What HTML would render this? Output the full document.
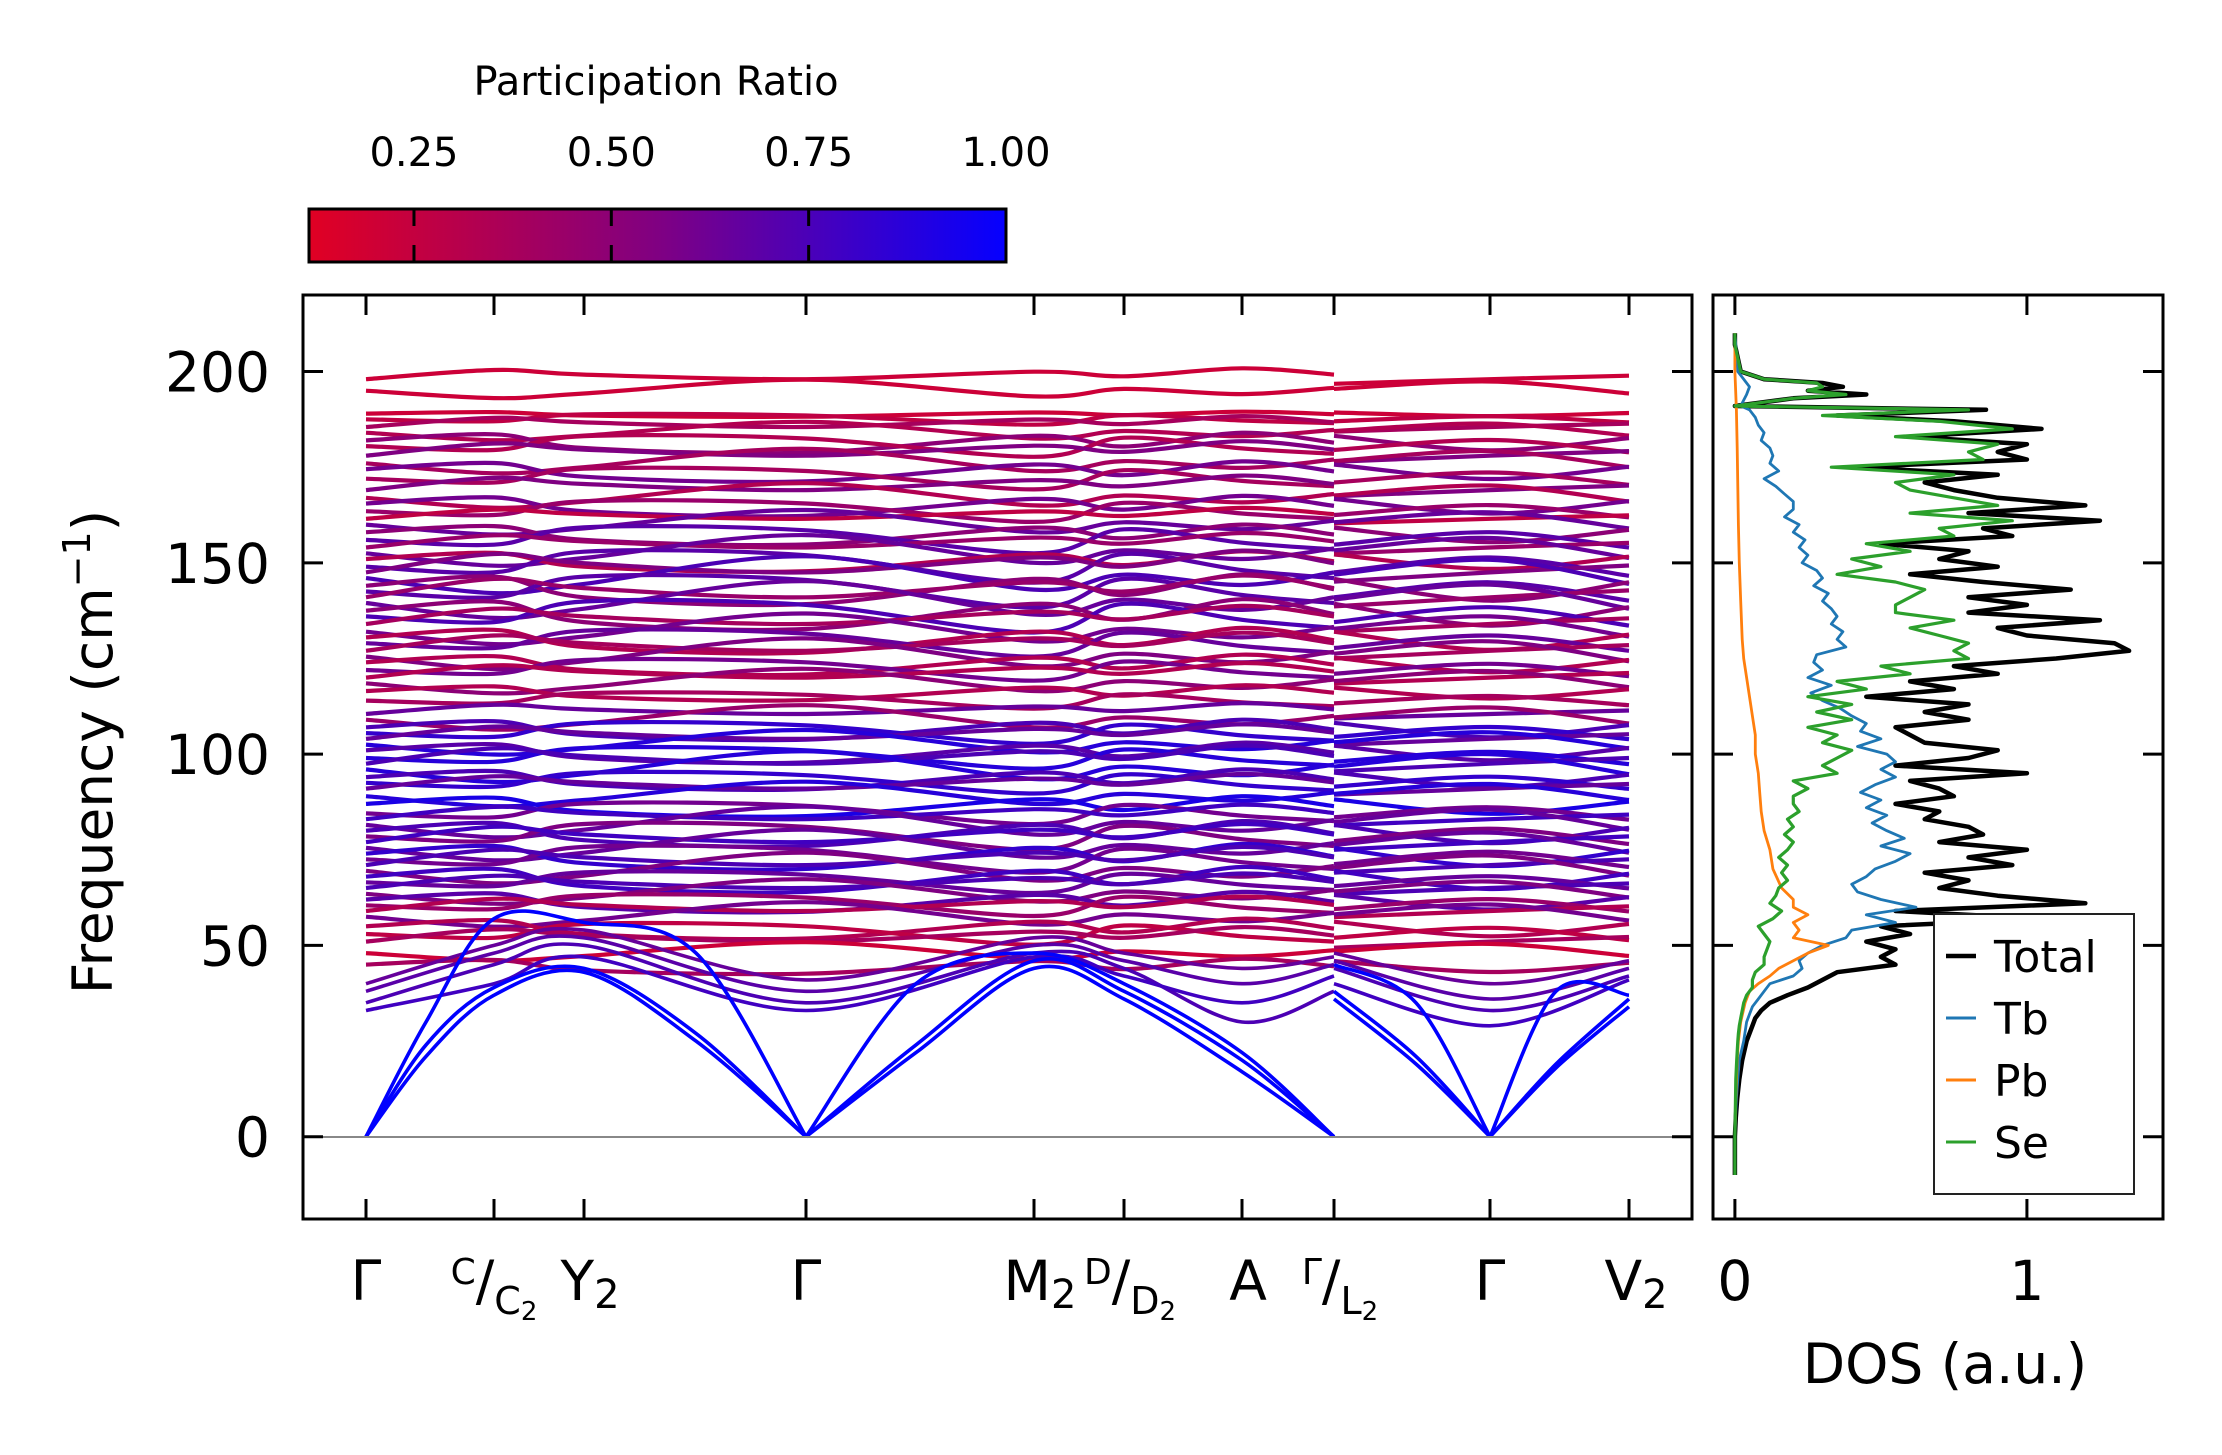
<!DOCTYPE html>
<html><head><meta charset="utf-8"><style>
html,body{margin:0;padding:0;background:#fff;}
svg{display:block;font-family:"DejaVu Sans","Liberation Sans",sans-serif;}
</style></head><body>
<svg id="fig" width="2222" height="1455" viewBox="0 0 2222 1455" xmlns="http://www.w3.org/2000/svg">
<defs>
<linearGradient id="cbgrad" x1="0" x2="1" y1="0" y2="0">
<stop offset="0" stop-color="rgb(225,0,35)"/><stop offset="0.5" stop-color="rgb(128,0,130)"/><stop offset="1" stop-color="rgb(5,0,255)"/>
</linearGradient>
<clipPath id="mainclip"><rect x="303" y="295" width="1389" height="924"/></clipPath>
<clipPath id="dosclip"><rect x="1713" y="295" width="450" height="924"/></clipPath>
</defs>
<g>
<text x="656" y="95" font-size="40" text-anchor="middle">Participation Ratio</text>
<rect x="309" y="209" width="697" height="53" fill="url(#cbgrad)" stroke="#000" stroke-width="3"/>
<g id="cbticks"></g>
</g>
<g id="main">
<g id="bands" clip-path="url(#mainclip)"></g>
<line x1="303" x2="1692" y1="1137" y2="1137" stroke="#888" stroke-width="2"/>
<rect x="303" y="295" width="1389" height="924" fill="none" stroke="#000" stroke-width="3"/>
<g id="mainticks"></g>
<text transform="translate(112,752) rotate(-90)" font-size="55" text-anchor="middle">Frequency (cm<tspan font-size="38" dy="-22">−1</tspan><tspan dy="22">)</tspan></text>
<g font-size="55" text-anchor="middle">
<text x="366" y="1300">Γ</text>
<text x="494" y="1300"><tspan font-size="36" dy="-16">C</tspan><tspan dy="16">/</tspan><tspan font-size="38" dy="14">C</tspan><tspan font-size="26" dy="6">2</tspan></text>
<text x="590" y="1300">Y<tspan font-size="40" dy="8">2</tspan></text>
<text x="806" y="1300">Γ</text>
<text x="1040" y="1300">M<tspan font-size="40" dy="8">2</tspan></text>
<text x="1130" y="1300"><tspan font-size="36" dy="-16">D</tspan><tspan dy="16">/</tspan><tspan font-size="38" dy="14">D</tspan><tspan font-size="26" dy="6">2</tspan></text>
<text x="1248" y="1300">A</text>
<text x="1340" y="1300"><tspan font-size="36" dy="-16">Γ</tspan><tspan dy="16">/</tspan><tspan font-size="38" dy="14">L</tspan><tspan font-size="26" dy="6">2</tspan></text>
<text x="1490" y="1300">Γ</text>
<text x="1636" y="1300">V<tspan font-size="40" dy="8">2</tspan></text>
</g>
</g>
<g id="dos">
<g id="doslines" clip-path="url(#dosclip)"></g>
<rect x="1713" y="295" width="450" height="924" fill="none" stroke="#000" stroke-width="3"/>
<g id="dosticks"></g>
<text x="1945" y="1383" font-size="55" text-anchor="middle">DOS (a.u.)</text>
<g>
<rect x="1934" y="914" width="200" height="280" fill="#fff" stroke="#222" stroke-width="2"/>
<g id="legendentries" font-size="44"></g>
</g>
</g>
</svg>
<script>
// ---- band structure data ----
const kTickLabels = ["Γ","C/C2","Y2","Γ","M2","D/D2","A","Γ/L2","Γ","V2"];
const kTicks = [0,1.28,2.18,4.40,6.68,7.58,8.76,9.68,11.24,12.63];
const kNodes = [0,1.28,2.18,4.40,6.68,7.58,8.76,9.68,9.68,11.24,12.63];
const acousticK = [0,0.6,1.28,2.18,3.3,4.40,5.5,6.68,7.58,8.76,9.68,9.68,10.5,11.24,11.9,12.63];
const acoustic1 = [0,21,37,43,25,0,22,44,36,17,0,36,19,0,18,34];
const acoustic2 = [0,24,39,44,27,0,24,46,38,20,0,38,21,0,19,36];
const acoustic3 = [0,30,57,56,48,0,40,48,40,22,0,45,35,0,38,37];
const lowOptic1 = [33,40,47,33,47,42,35,42,40,29,41];
const lowOptic2 = [35,45,50,35,48,44,30,38,44,33,42];
const lowOptic3 = [38,48,52,38,50,46,40,45,46,36,44];
const lowOptic4 = [40,50,54,41,52,48,44,47,48,40,46];
const lowPR = [1.0,1.0,1.0,0.75,0.7,0.65,0.6];
const opticBase = [198,195,189,187.5,185.5,184,182,180.5,178,176,174.5,172,169,167,165.5,163.5,161.5,160,158,156,154,152.5,151,149,147.5,146,144,142.5,141,139.5,137.5,136,134,132,130.5,129,127,125.5,124,122,120,118.5,116.5,114,110.5,109,107,105.5,104,102.5,101,99,97.5,96,94,92.5,91,89,87,84.5,83,81.5,80,78.5,77,75.5,74,72.5,71,69.5,68,66.5,65,63.5,62,60.5,59,57.5,55,53,51,48,45];
const opticPR = [0.2,0.2,0.2,0.25,0.35,0.3,0.45,0.3,0.5,0.35,0.55,0.35,0.5,0.3,0.55,0.4,0.25,0.6,0.45,0.65,0.4,0.6,0.3,0.65,0.5,0.7,0.45,0.65,0.4,0.6,0.45,0.7,0.35,0.55,0.3,0.6,0.35,0.5,0.3,0.55,0.3,0.45,0.3,0.35,0.6,0.4,0.7,0.8,0.6,0.85,0.65,0.85,0.7,0.85,0.7,0.8,0.6,0.85,0.9,0.55,0.75,0.6,0.7,0.5,0.75,0.6,0.8,0.55,0.7,0.5,0.75,0.6,0.7,0.5,0.65,0.4,0.3,0.55,0.3,0.25,0.35,0.2,0.35];
const opticAmp = [1.5,1.5,0.5,1,1.5,1.5,2,2,2,2,2,2,2,2,2,2,1.5,2,2,2.5,2,2.5,2,3,3,3,3,3,3,3,3,3,2.5,2.5,2.5,2.5,2.5,2.5,2,2,2,2,1.5,1.5,1.5,2,2,2,2,2,2,2,2.5,2.5,2,2,2,2,2,2,2,2.5,2.5,2.5,2.5,2.5,2.5,2.5,2.5,2.5,2.5,2,2,2,2,2,2,2,2,2,2,1.5,1.5];
const shape0 = [0,1.6,0.8,0,1.3,0.5,1.9,0.8,-0.8,0,0.6];
const shape1 = [0,-1.3,-0.5,1.9,-1.0,0.3,-0.6,0.5,0.3,1.6,-0.5];
const shape2 = [0,0.8,-1.0,-1.6,0.6,-0.8,1.0,-0.3,0.6,-1.3,0.3];
const shape3 = [0,-0.5,1.3,1.0,-1.4,1.1,-0.3,-1.0,-0.5,0.8,-0.8];
const shapes = [shape0,shape1,shape2,shape3];
const yTicks = [0,50,100,150,200];
const cbTicks = [0.25,0.5,0.75,1.0];
const cbTickLabels = ["0.25","0.50","0.75","1.00"];

// ---- DOS data ----
const totFreq = [-10,0,5,10,15,20,25,27,29,31,33,35,37,39,41,43,45,47,49,51,53,55,57,59,61,63,65,67,69,71,73,75,77,79,81,83,85,87,89,91,93,95,97,99,101,103,105,107,109,111,113,115,117,119,121,123,125,127,129,131,133,135,137,139,141,143,145,147,149,151,153,155,157,159,161,163,165,167,169,171,173,175,177,179,181,183,185,187,188.5,190,191,193,194,195,196,197,198,200,207,210];
const totVal = [0,0,0.003,0.008,0.015,0.025,0.04,0.05,0.06,0.07,0.09,0.12,0.18,0.25,0.3,0.35,0.55,0.5,0.55,0.45,0.6,0.5,1.05,0.55,1.2,0.9,0.7,0.8,0.65,0.95,0.8,1.0,0.7,0.85,0.8,0.65,0.7,0.55,0.75,0.7,0.6,1.0,0.55,0.8,0.9,0.65,0.6,0.55,0.8,0.65,0.8,0.45,0.75,0.6,0.9,0.75,1.1,1.35,1.3,1.0,0.9,1.25,0.8,1.0,0.8,1.15,0.85,0.6,0.9,0.7,0.8,0.5,0.95,0.85,1.25,0.8,1.2,0.9,0.75,0.65,0.9,0.4,1.0,0.9,1.0,0.6,1.05,0.75,0.35,0.86,0,0.2,0.45,0.25,0.37,0.3,0.1,0.02,0,0];
const seFreq = totFreq;
const seVal = [0,0,0.001,0.002,0.003,0.006,0.01,0.012,0.015,0.02,0.025,0.03,0.04,0.06,0.06,0.07,0.1,0.1,0.11,0.12,0.1,0.08,0.13,0.16,0.12,0.14,0.15,0.18,0.16,0.18,0.15,0.18,0.2,0.17,0.2,0.18,0.22,0.2,0.2,0.25,0.2,0.35,0.3,0.35,0.4,0.3,0.35,0.25,0.4,0.28,0.4,0.25,0.45,0.35,0.6,0.5,0.8,0.75,0.8,0.7,0.6,0.75,0.55,0.55,0.6,0.65,0.55,0.35,0.5,0.4,0.6,0.45,0.75,0.7,0.95,0.6,0.9,0.75,0.6,0.55,0.75,0.33,0.85,0.8,0.9,0.55,0.95,0.7,0.3,0.8,0,0.2,0.38,0.25,0.3,0.28,0.1,0.02,0,0];
const tbFreq = [-10,0,5,10,15,20,25,30,32,34,36,38,40,42,44,46,48,50,52,54,56,58,60,62,64,66,68,70,72,74,76,78,80,82,84,86,88,90,92,94,96,98,100,102,104,106,108,110,112,114,116,118,120,122,124,126,128,130,132,134,136,138,140,142,144,146,148,150,152,154,156,158,160,162,164,166,168,170,172,174,176,178,180,182,184,186,188,190,191,194,196,198,200,210];
const tbVal = [0,0,0.002,0.005,0.01,0.015,0.03,0.04,0.05,0.06,0.08,0.1,0.12,0.2,0.23,0.22,0.25,0.3,0.38,0.4,0.55,0.45,0.62,0.5,0.42,0.4,0.45,0.48,0.55,0.6,0.5,0.58,0.52,0.47,0.52,0.45,0.5,0.43,0.48,0.55,0.5,0.55,0.52,0.42,0.5,0.43,0.45,0.4,0.36,0.3,0.26,0.33,0.25,0.3,0.27,0.28,0.38,0.35,0.37,0.33,0.35,0.33,0.3,0.32,0.27,0.3,0.28,0.23,0.25,0.22,0.24,0.2,0.22,0.17,0.2,0.2,0.17,0.14,0.1,0.15,0.12,0.13,0.12,0.09,0.1,0.08,0.07,0.05,0.02,0.04,0.05,0.03,0.01,0];
const pbFreq = [-10,0,10,20,25,30,35,38,40,42,44,46,48,50,52,54,56,58,60,62,65,70,75,80,85,90,95,100,105,110,115,120,125,130,140,150,160,170,180,190,200,210];
const pbVal = [0,0,0.003,0.008,0.012,0.02,0.035,0.05,0.08,0.12,0.15,0.2,0.25,0.32,0.2,0.22,0.2,0.25,0.2,0.2,0.16,0.13,0.12,0.1,0.09,0.085,0.08,0.07,0.07,0.06,0.05,0.04,0.03,0.025,0.02,0.015,0.012,0.01,0.008,0.005,0,0];
const legendLabels = ["Total","Tb","Pb","Se"];
const seriesColors = ["#000000","#1f77b4","#ff7f0e","#2ca02c"];

// ---- scales ----
const X0=303,X1=1692,Y0=1219,Y1=295;
const kMin=-0.63,kMax=13.26,fMin=-21.5,fMax=220;
function xk(k){return X0+(k-kMin)/(kMax-kMin)*(X1-X0);}
function yf(f){return Y0-(f-fMin)/(fMax-fMin)*(Y0-Y1);}
const dosMin=-0.075,dosMax=1.466;
function xd(v){return 1713+(v-dosMin)/(dosMax-dosMin)*450;}
function cbx(p){return 309+(p-0.117)/(1-0.117)*697;}
function prColor(p){const t=Math.max(0,Math.min(1,(p-0.117)/(1-0.117)));return `rgb(${Math.round(225*(1-t))},0,${Math.round(35+220*t)})`;}
const NS="http://www.w3.org/2000/svg";
function mk(tag,attrs,parent){const e=document.createElementNS(NS,tag);for(const a in attrs)e.setAttribute(a,attrs[a]);parent.appendChild(e);return e;}
function crPath(pts){let d=`M${pts[0][0].toFixed(1)},${pts[0][1].toFixed(1)}`;
 for(let i=0;i<pts.length-1;i++){const p0=pts[Math.max(0,i-1)],p1=pts[i],p2=pts[i+1],p3=pts[Math.min(pts.length-1,i+2)];
  const c1=[p1[0]+(p2[0]-p0[0])/6,p1[1]+(p2[1]-p0[1])/6],c2=[p2[0]-(p3[0]-p1[0])/6,p2[1]-(p3[1]-p1[1])/6];
  d+=`C${c1[0].toFixed(1)},${c1[1].toFixed(1)} ${c2[0].toFixed(1)},${c2[1].toFixed(1)} ${p2[0].toFixed(1)},${p2[1].toFixed(1)}`;}
 return d;}
const bandsG=document.getElementById('bands');
function drawSegs(kArr,vals,segs,color,name,w){
 let d="";
 segs.forEach(s=>{const pts=[];for(let j=s[0];j<=s[1];j++)pts.push([xk(kArr[j]),yf(vals[j])]);d+=crPath(pts)+" ";});
 const el=mk('path',{d:d,fill:'none',stroke:color,'stroke-width':w},bandsG);
 
 
}
const opticSegs=[[0,7],[8,10]];
const acousticSegs=[[0,5],[5,10],[11,13],[13,15]];
for(let b=0;b<opticBase.length;b++){
 const sh=shapes[b%4];const vals=sh.map(s=>opticBase[b]+opticAmp[b]*s);
 drawSegs(kNodes,vals,opticSegs,prColor(opticPR[b]),'optical-band-'+(b+1),4.2);
}
[lowOptic4,lowOptic3,lowOptic2,lowOptic1].forEach((v,i)=>drawSegs(kNodes,v,opticSegs,prColor(lowPR[6-i]),'low-optical-band-'+(i+1),3.6));
[acoustic3,acoustic2,acoustic1].forEach((v,i)=>drawSegs(acousticK,v,acousticSegs,prColor(lowPR[i]),'acoustic-band-'+(i+1),3.6));

// main ticks
const mt=document.getElementById('mainticks');
kTicks.forEach((k,i)=>{const x=xk(k);
 const t1=mk('line',{x1:x,x2:x,y1:Y0,y2:Y0-20,stroke:'#000','stroke-width':3},mt);
 
 
 const t2=mk('line',{x1:x,x2:x,y1:Y1,y2:Y1+20,stroke:'#000','stroke-width':3},mt);
 
 });
yTicks.forEach(f=>{const y=yf(f);
 const a=mk('line',{x1:X0,x2:X0+20,y1:y,y2:y,stroke:'#000','stroke-width':3},mt);
 
 
 const b=mk('line',{x1:X1,x2:X1-20,y1:y,y2:y,stroke:'#000','stroke-width':3},mt);
 
 
 const tx=mk('text',{x:270,y:y+20,'font-size':55,'text-anchor':'end'},mt);tx.textContent=String(f);
 
 });
// colorbar ticks
const cbt=document.getElementById('cbticks');
cbTicks.forEach((p,i)=>{const x=cbx(p);
 if(p<1){const a=mk('line',{x1:x,x2:x,y1:209,y2:226,stroke:'#000','stroke-width':3},cbt);
 
 
 const b=mk('line',{x1:x,x2:x,y1:245,y2:262,stroke:'#000','stroke-width':3},cbt);
 
 }
 const t=mk('text',{x:x,y:166,'font-size':40,'text-anchor':'middle'},cbt);t.textContent=cbTickLabels[i];
 
 });
// DOS
const dl=document.getElementById('doslines');
function dosLine(fr,vals,color,w,name){
 const pts=fr.map((f,i)=>`${xd(vals[i]).toFixed(1)},${yf(f).toFixed(1)}`).join(' ');
 const el=mk('polyline',{points:pts,fill:'none',stroke:color,'stroke-width':w,'stroke-linejoin':'round'},dl);
 
 }
dosLine(totFreq,totVal,seriesColors[0],4.5,'dos-total');
dosLine(tbFreq,tbVal,seriesColors[1],2.8,'dos-tb');
dosLine(pbFreq,pbVal,seriesColors[2],2.8,'dos-pb');
dosLine(seFreq,seVal,seriesColors[3],3.2,'dos-se');
const dt=document.getElementById('dosticks');
[0,1].forEach(v=>{const x=xd(v);
 const a=mk('line',{x1:x,x2:x,y1:Y0,y2:Y0-20,stroke:'#000','stroke-width':3},dt);
 
 
 const b=mk('line',{x1:x,x2:x,y1:Y1,y2:Y1+20,stroke:'#000','stroke-width':3},dt);
 
 
 const t=mk('text',{x:x,y:1300,'font-size':55,'text-anchor':'middle'},dt);t.textContent=String(v);
 
 });
yTicks.forEach(f=>{const y=yf(f);
 const a=mk('line',{x1:1713,x2:1733,y1:y,y2:y,stroke:'#000','stroke-width':3},dt);
 
 
 const b=mk('line',{x1:2163,x2:2143,y1:y,y2:y,stroke:'#000','stroke-width':3},dt);
 
 });
const le=document.getElementById('legendentries');
legendLabels.forEach((lab,i)=>{const y=956+i*62;
 const l=mk('line',{x1:1946,x2:1976,y1:y,y2:y,stroke:seriesColors[i],'stroke-width':i===0?4.5:3},le);
 
 
 const t=mk('text',{x:1994,y:y+16},le);t.textContent=lab;
 
 });
</script>
</body></html>
